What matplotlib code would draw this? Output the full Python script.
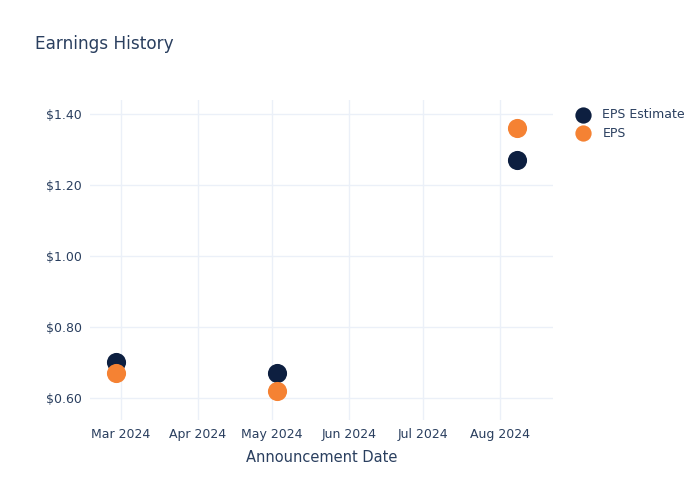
import matplotlib
matplotlib.use("Agg")
import matplotlib.pyplot as plt
import matplotlib.dates as mdates
import numpy as np
import pandas as pd

dates = pd.to_datetime(["2024-02-28", "2024-05-03", "2024-08-08"])
eps_estimate = [0.70, 0.67, 1.27]
eps_actual = [0.67, 0.62, 1.36]
series_names = ["EPS Estimate", "EPS"]

text_color = "#2a3f5f"
grid_color = "#ebf0f8"
c_est = "#0d1f40"
c_eps = "#f58233"

fig = plt.figure(figsize=(7, 5), dpi=100)
ax = fig.add_axes([90/700, 80/500, 463/700, 320/500])

ax.scatter(dates, eps_estimate, s=190, color=c_est, zorder=3, linewidths=0, label=series_names[0])
ax.scatter(dates, eps_actual, s=190, color=c_eps, zorder=4, linewidths=0, label=series_names[1])

ax.set_xlim(pd.Timestamp("2024-02-17 12:00"), pd.Timestamp("2024-08-22 10:00"))
ax.set_ylim(0.538, 1.439)
ax.set_yticks([0.6, 0.8, 1.0, 1.2, 1.4])
ax.yaxis.set_major_formatter(matplotlib.ticker.FuncFormatter(lambda v, p: f"${v:.2f}"))
ax.xaxis.set_major_locator(mdates.MonthLocator())
ax.xaxis.set_major_formatter(mdates.DateFormatter("%b %Y"))

ax.grid(True, color=grid_color, linewidth=1)
ax.set_axisbelow(True)
for s in ax.spines.values():
    s.set_visible(False)
ax.tick_params(length=0, labelsize=9, colors=text_color, pad=6)
ax.set_xlabel("Announcement Date", fontsize=10.5, color=text_color, labelpad=6)

fig.text(35/700, 1 - 44/500, "Earnings History", fontsize=12.2, color=text_color, va="center", ha="left")

leg = ax.legend(loc="upper left", bbox_to_anchor=(565/700, 1 - 103/500), bbox_transform=fig.transFigure,
                frameon=False, fontsize=9, labelcolor=text_color, handletextpad=0.6,
                labelspacing=0.45, markerscale=0.85, borderaxespad=0)

fig.savefig("out.png", dpi=100)
